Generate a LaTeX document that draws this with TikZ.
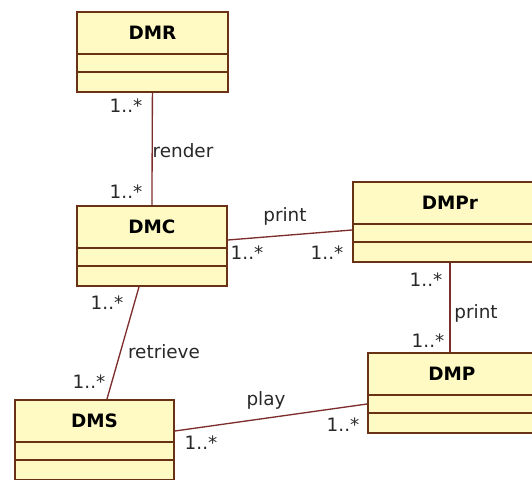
\documentclass[tikz,border=0pt]{standalone}
\usepackage{fontspec}
\setmainfont{DejaVu Sans}
\usetikzlibrary{calc}
\definecolor{fond}{RGB}{255,250,195}
\definecolor{bord}{RGB}{105,50,20}
\definecolor{assoc}{RGB}{125,45,45}
\definecolor{texte}{RGB}{40,40,40}

\begin{document}
\begin{tikzpicture}[x=0.75pt,y=-0.75pt,font=\fontsize{13.8pt}{16pt}\selectfont]
\tikzset{classe/.style={draw=bord,fill=fond,line width=1.4pt,minimum height=60pt,inner sep=0pt,anchor=north west},
titre/.style={font=\fontsize{13.8pt}{16pt}\selectfont\bfseries},
compart/.style={draw=bord,line width=1.4pt},
lien/.style={draw=assoc,line width=1pt},
mult/.style={text=texte,inner sep=0pt}}
\useasboundingbox (0,0) rectangle (532,479);
\clip (0,0) rectangle (532,479);

% les classes
\node[classe,minimum width=113.25pt] (DMR) at (76,11){};
\node[classe,minimum width=112.5pt] (DMC) at (76,205){};
\node[classe,minimum width=145.5pt] (DMPr) at (352,181){};
\node[classe,minimum width=126pt] (DMP) at (367,352){};
\node[classe,minimum width=119.25pt] (DMS) at (14,399){};

\node[titre] (tDMR) at ($(DMR.north)+(0,21.5)$){DMR};
\node[titre] (tDMC) at ($(DMC.north)+(0,21.5)$){DMC};
\node[titre] (tDMPr) at ($(DMPr.north)+(0,21.5)$){DMPr};
\node[titre] (tDMP) at ($(DMP.north)+(0,21.5)$){DMP};
\node[titre] (tDMS) at ($(DMS.north)+(0,21.5)$){DMS};

\foreach \c in {DMR,DMC,DMPr,DMP,DMS}{
\draw[compart] ($(\c.north west)+(0,43)$) -- ($(\c.north east)+(0,43)$);
\draw[compart] ($(\c.north west)+(0,61)$) -- ($(\c.north east)+(0,61)$);
}

% les associations
\coordinate (r1) at (DMR.south);
\coordinate (r2) at (DMC.north);
\coordinate (p1) at ($(DMC.north east)+(0,35)$);
\coordinate (p2) at ($(DMPr.north west)+(0,49)$);
\coordinate (q1) at (DMPr.south);
\coordinate (q2) at (DMPr.south |- DMP.north);
\coordinate (e1) at ($(DMC.south west)+(63,0)$);
\coordinate (e2) at ($(DMS.north west)+(93,0)$);
\coordinate (j1) at ($(DMS.north east)+(0,32)$);
\coordinate (j2) at ($(DMP.north west)+(0,52)$);

\draw[lien] (r1) -- (r2);
\draw[lien] (p1) -- (p2);
\draw[lien] (q1) -- (q2);
\draw[lien] (e1) -- (e2);
\draw[lien] (j1) -- (j2);

\node[mult] (mr1) at (126,106){1..*};
\node[mult] (lr) at (183,151){render};
\node[mult] (mr2) at (126,192){1..*};

\node[mult] (lp) at (285,216){print};
\node[mult] (mp1) at (247,253){1..*};
\node[mult] (mp2) at (327,253){1..*};

\node[mult] (mq1) at (426,280){1..*};
\node[mult] (lq) at (476,313){print};
\node[mult] (mq2) at (428,341){1..*};

\node[mult] (me1) at (107,303){1..*};
\node[mult] (le) at (164,352){retrieve};
\node[mult] (me2) at (89,382){1..*};

\node[mult] (lj) at (266,400){play};
\node[mult] (mj1) at (201,443){1..*};
\node[mult] (mj2) at (343,425){1..*};
\end{tikzpicture}
\end{document}
